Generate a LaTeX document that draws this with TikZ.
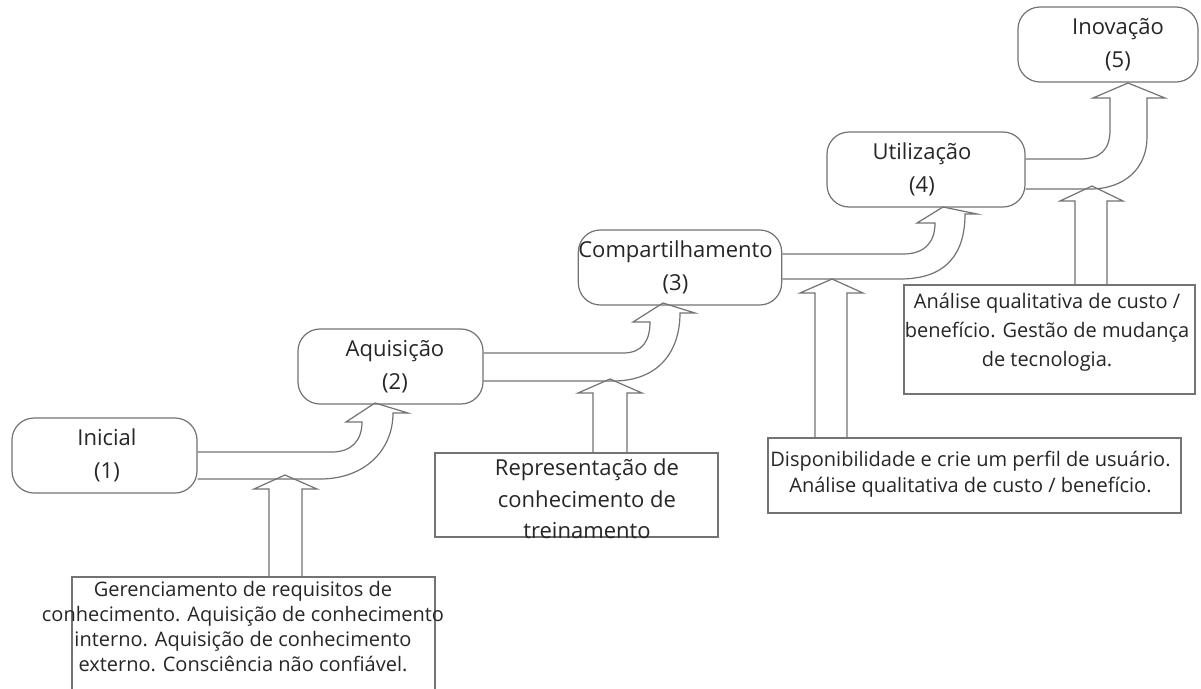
\documentclass[tikz,border=0pt]{standalone}
\usepackage{fontspec}
\setmainfont{Open Sans}
\usetikzlibrary{calc}
\newcommand\MyShR[2]{\makebox[\dimexpr\width+#1\relax][r]{#2}}
\newcommand\MyShL[2]{\makebox[\dimexpr\width+#1\relax][l]{#2}}
\begin{document}
\begin{tikzpicture}[x=1pt,y=-1pt,
  stage/.style={draw=black!55, line width=1.2pt, rounded corners=22pt,
    minimum width=#1, minimum height=75pt, align=center, inner sep=0pt,
    font=\fontsize{22}{33}\selectfont, text=black!85},
  infobox/.style={draw=black!55, line width=1.2pt, inner sep=0pt},
  infotext/.style={align=center, inner sep=0pt, text=black!85},
  blockarrow/.style={draw=black!55, line width=1.2pt, line join=miter}]
\path[use as bounding box] (0,0) rectangle (1201,688);
\fill[white] (0,0) rectangle (1201,688);
\clip (0,0) rectangle (1201,688);

% stages
\node[stage=185pt] (n1) at (104.5,455.5) {\MyShR{5pt}{Inicial}\\\MyShR{5pt}{(1)}};
\node[stage=185pt] (n2) at (390.5,366.5) {\MyShR{9pt}{Aquisição}\\\MyShR{9pt}{(2)}};
\node[stage=186pt] (n3) at (680,267.5) {\MyShL{9pt}{Compartilhamento}\\\MyShL{9pt}{(3)}};
\node[stage=198pt] (n4) at (926,169.5) {\MyShL{8pt}{Utilização}\\\MyShL{8pt}{(4)}};
\node[stage=180pt] (n5) at (1108,44.5) {\MyShR{20pt}{Inovação}\\\MyShR{20pt}{(5)}};

% info boxes
\node[infobox, minimum width=363pt, minimum height=123pt] (b1) at (253.5,638.5) {};
\node[infobox, minimum width=283pt, minimum height=84pt] (b2) at (576.5,495) {};
\node[infobox, minimum width=413pt, minimum height=75pt] (b3) at (974.5,475.5) {};
\node[infobox, minimum width=291pt, minimum height=109pt] (b4) at (1049.5,339.5) {};

\node[infotext, font=\fontsize{20}{25}\selectfont] (t1) at (243,627)
  {Gerenciamento de requisitos de\\conhecimento. Aquisição de conhecimento\\interno. Aquisição de conhecimento\\externo. Consciência não confiável.};
\node[infotext, font=\fontsize{22}{31.5}\selectfont] (t2) at (587,499)
  {Representação de\\conhecimento de\\treinamento};
\node[infotext, font=\fontsize{20}{26}\selectfont] (t3) at (970.5,474.5)
  {Disponibilidade e crie um perfil de usuário.\\Análise qualitativa de custo / benefício.};
\node[infotext, font=\fontsize{20}{29}\selectfont] (t4) at (1047,332)
  {Análise qualitativa de custo /\\benefício. Gestão de mudança\\de tecnologia.};

% curved block arrows between stages
\draw[blockarrow] (n1.east |- 0,452) -- (332,452)
  .. controls (352,452) and (362,440) .. (362,422) -- (346,422) -- (375,403)
  -- (408,413) -- (393,413) .. controls (393,450) and (365,479) .. (320,479)
  -- (n1.east |- 0,479);
\draw[blockarrow] (n2.east |- 0,353) -- (623,353)
  .. controls (643,353) and (650,340) .. (650,322) -- (633,322) -- (663,303)
  -- (695,313) -- (680,313) .. controls (680,350) and (660,381) .. (613,381)
  -- (n2.east |- 0,381);
\draw[blockarrow] (n3.east |- 0,254) -- (903,254)
  .. controls (925,254) and (935,242) .. (935,223) -- (917,223) -- (943,207)
  -- (977,214) -- (965,214) .. controls (965,252) and (948,279) .. (900,279)
  -- (n3.east |- 0,279);
\draw[blockarrow] (n4.east |- 0,159) -- (1080,159)
  .. controls (1100,159) and (1110,150) .. (1110,130) -- (1110,98) -- (1093,98)
  -- (1128,83) -- (1165,98) -- (1147,98) -- (1147,137)
  .. controls (1147,168) and (1125,189) .. (1090,189) -- (n4.east |- 0,189);

% vertical block arrows from info boxes
\draw[blockarrow] (b1.north -| 269,0) -- (269,489) -- (254,489) -- (285,475)
  -- (317,489) -- (302,489) -- (b1.north -| 302,0);
\draw[blockarrow] (b2.north -| 593,0) -- (593,393) -- (578,393) -- (610,379)
  -- (642,393) -- (627,393) -- (b2.north -| 627,0);
\draw[blockarrow] (b3.north -| 815,0) -- (815,293) -- (800,293) -- (832,279)
  -- (863,293) -- (847,293) -- (b3.north -| 847,0);
\draw[blockarrow] (b4.north -| 1075,0) -- (1075,201) -- (1060,201) -- (1092,186)
  -- (1123,201) -- (1107,201) -- (b4.north -| 1107,0);
\end{tikzpicture}
\end{document}
